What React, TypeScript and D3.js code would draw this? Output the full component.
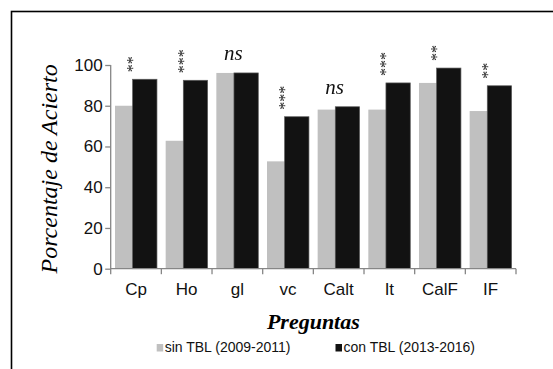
import React, { useRef, useEffect } from 'react';
import * as d3 from 'd3';

const categories = ['Cp', 'Ho', 'gl', 'vc', 'Calt', 'It', 'CalF', 'IF'];
const sinTBL = [80, 62.8, 96.1, 52.7, 78.1, 78.1, 91.2, 77.4];
const conTBL = [93, 92.5, 96.1, 74.6, 79.5, 91.2, 98.5, 89.8];
const signif = ['**', '***', 'ns', '***', 'ns', '***', '**', '**'];
const yTicks = [0, 20, 40, 60, 80, 100];
const seriesNames = ['sin TBL (2009-2011)', 'con TBL (2013-2016)'];

const W = 553;
const H = 369;
const SANS = '"Liberation Sans", Arial, sans-serif';
const SERIF = '"Liberation Serif", "Times New Roman", serif';
const GRAY = '#c0c0c0';
const BLACK = '#121212';
const AXIS = '#868686';

const App = () => {
    const ref = useRef<SVGSVGElement>(null);

    useEffect(() => {
        const svg = d3.select(ref.current);
        svg.selectAll('*').remove();

        const x = d3.scaleBand().domain(categories).range([110.7, 516]).padding(0);
        const y = d3.scaleLinear().domain([0, 100]).range([268.7, 65]);
        const bw = x.bandwidth();
        const pad = bw * 0.085;      // gap at each side of a group
        const barW = bw * 0.48;      // width of one bar
        const offset = bw * 0.348;   // black bar shift (bars overlap)

        // outer frame
        svg.append('rect')
            .attr('x', 11.5).attr('y', 11.5)
            .attr('width', W).attr('height', H)
            .attr('fill', 'none').attr('stroke', '#000').attr('stroke-width', 1.6);

        // bars
        const g = svg.append('g');
        g.selectAll('rect.sin')
            .data(categories)
            .enter().append('rect')
            .attr('class', 'sin')
            .attr('x', (d) => (x(d) as number) + pad)
            .attr('y', (d, i) => y(sinTBL[i]))
            .attr('width', barW)
            .attr('height', (d, i) => y(0) - y(sinTBL[i]))
            .attr('fill', GRAY);

        g.selectAll('rect.con')
            .data(categories)
            .enter().append('rect')
            .attr('class', 'con')
            .attr('x', (d) => (x(d) as number) + pad + offset)
            .attr('y', (d, i) => y(conTBL[i]))
            .attr('width', barW)
            .attr('height', (d, i) => y(0) - y(conTBL[i]))
            .attr('fill', BLACK)
            .attr('stroke', '#5a5a5a')
            .attr('stroke-width', 0.7);

        // significance marks (stars are stacked: rotated text)
        const marks = svg.append('g').style('filter', 'grayscale(1)');
        categories.forEach((c, i) => {
            const cx = (x(c) as number) + bw / 2 - 3;
            const top = y(conTBL[i]);
            if (signif[i] === 'ns') {
                marks.append('text')
                    .attr('x', cx - 1)
                    .attr('y', top - 13)
                    .attr('text-anchor', 'middle')
                    .attr('font-family', SERIF)
                    .attr('font-style', 'italic')
                    .attr('font-size', 21)
                    .attr('fill', '#111')
                    .text('ns');
            } else {
                marks.append('text')
                    .attr('transform', `translate(${cx + 5},${top - 7}) rotate(-90)`)
                    .attr('text-anchor', 'start')
                    .attr('font-family', SERIF)
                    .attr('font-size', 16)
                    .attr('fill', '#1a1a1a')
                    .text(signif[i]);
            }
        });

        // y axis
        const yAxis = svg.append('g')
            .attr('transform', `translate(${x.range()[0]},0)`)
            .call(d3.axisLeft(y).tickValues(yTicks).tickSizeInner(5.5).tickSizeOuter(0).tickPadding(2.5));
        yAxis.select('.domain').attr('stroke', AXIS).attr('stroke-width', 1.3)
            .attr('d', `M0,${y(100)}V${y(0) + 5.5}`);
        yAxis.selectAll('.tick line').attr('stroke', AXIS).attr('stroke-width', 1.3);
        yAxis.selectAll('.tick text')
            .attr('font-family', SANS).attr('font-size', 17).attr('fill', '#111');

        // x axis
        const xAxis = svg.append('g')
            .attr('transform', `translate(0,${y(0)})`)
            .call(d3.axisBottom(x).tickSize(0).tickPadding(14));
        xAxis.select('.domain').attr('stroke', AXIS).attr('stroke-width', 1.3)
            .attr('d', `M${x.range()[0]},0H${x.range()[1]}`);
        xAxis.selectAll('.tick text')
            .attr('font-family', SANS).attr('font-size', 17).attr('fill', '#111');
        xAxis.selectAll('line.sep')
            .data(categories.slice(1).concat(['end']))
            .enter().append('line')
            .attr('class', 'sep')
            .attr('x1', (d) => d === 'end' ? x.range()[1] : (x(d) as number))
            .attr('x2', (d) => d === 'end' ? x.range()[1] : (x(d) as number))
            .attr('y1', 0).attr('y2', 5.5)
            .attr('stroke', AXIS).attr('stroke-width', 1.3);

        // axis titles
        svg.append('text')
            .attr('transform', `translate(57,${y(49)}) rotate(-90)`)
            .attr('text-anchor', 'middle')
            .attr('font-family', SERIF)
            .attr('font-style', 'italic')
            .attr('font-size', 24)
            .attr('fill', '#000')
            .text('Porcentaje de Acierto');

        svg.append('text')
            .attr('x', (x.range()[0] + x.range()[1]) / 2)
            .attr('y', 329)
            .attr('text-anchor', 'middle')
            .attr('font-family', SERIF)
            .attr('font-style', 'italic')
            .attr('font-weight', 'bold')
            .attr('font-size', 22)
            .attr('fill', '#000')
            .text('Preguntas');

        // legend
        const legendX = [156.7, 335.5];
        const legendColors = [GRAY, BLACK];
        seriesNames.forEach((name, i) => {
            svg.append('rect')
                .attr('x', legendX[i]).attr('y', 344)
                .attr('width', 6.5).attr('height', 7.5)
                .attr('fill', legendColors[i]);
            svg.append('text')
                .attr('x', legendX[i] + 8)
                .attr('y', 352)
                .attr('font-family', SANS)
                .attr('font-size', 14)
                .attr('fill', '#111')
                .text(name);
        });
    }, []);

    return (
        <svg ref={ref} width={W} height={H}
            style={{ position: 'absolute', left: 0, top: 0, background: '#fff' }} />
    );
};

export default App;
